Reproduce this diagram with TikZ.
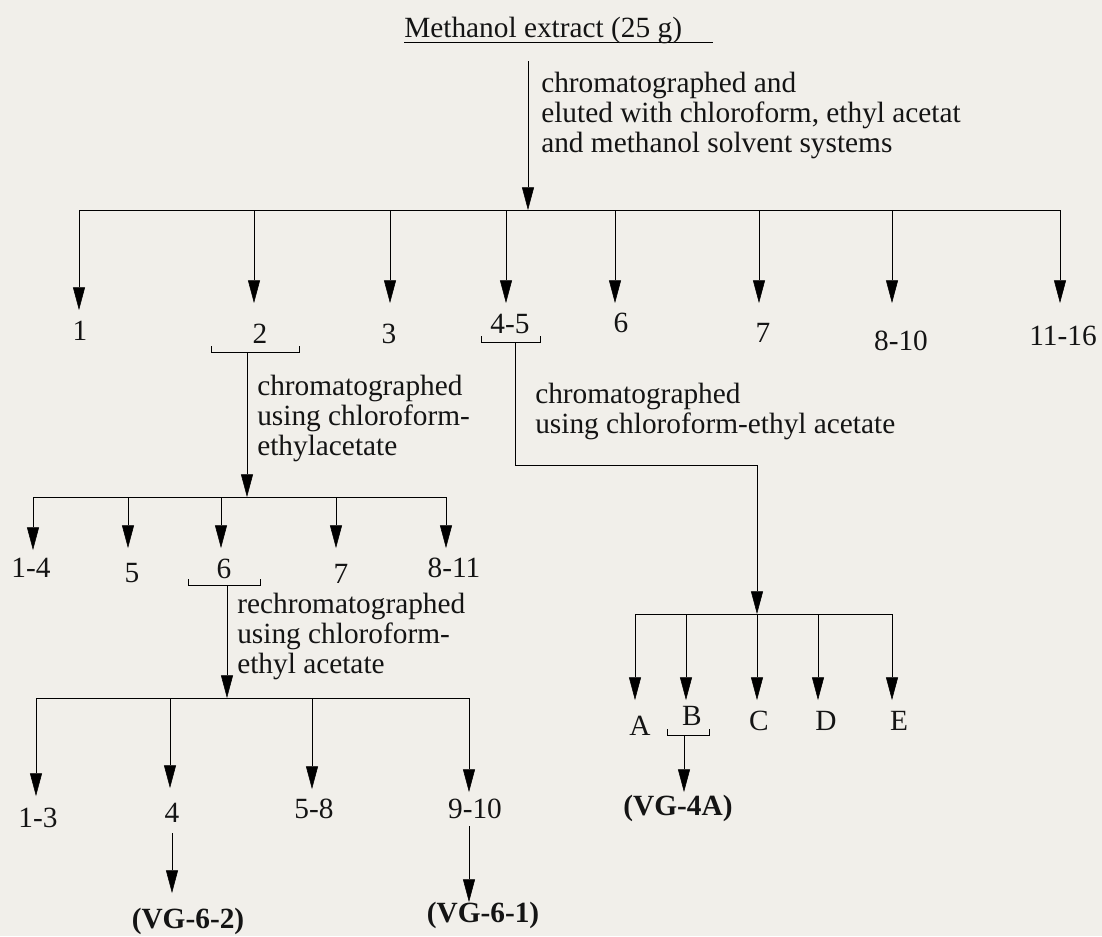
\documentclass[tikz,border=0pt]{standalone}
\usepackage{fontspec}
\setmainfont{Liberation Serif}
\usepackage{tikz}
\usetikzlibrary{arrows.meta}
\pgfdeclarelayer{paperlayer}
\pgfdeclarelayer{nodelayer}
\pgfdeclarelayer{edgelayer}
\pgfsetlayers{paperlayer,edgelayer,nodelayer,main}
\definecolor{paper}{RGB}{241,239,234}
\definecolor{ink}{RGB}{20,20,20}
\newcommand{\flowfont}{\fontsize{22}{22.5}\selectfont}
\tikzstyle{none}=[inner sep=0pt]
\tikzstyle{frac}=[inner sep=0pt, anchor=base, font=\flowfont]
\tikzstyle{note}=[inner sep=0pt, anchor=base west, align=left, font=\flowfont]
\tikzstyle{product}=[inner sep=0pt, anchor=base, font=\flowfont\bfseries]
\tikzstyle{flow}=[-{Triangle[length=17pt,width=9pt]}]
\tikzset{every picture/.append style={x=7.5pt, y=7.5pt, line width=2.2pt, color=ink}}

\begin{document}
\begin{tikzpicture}
	\begin{pgfonlayer}{paperlayer}
		\fill [paper] (0, 0) rectangle (110.2, -93.6);
		\useasboundingbox (0, 0) rectangle (110.2, -93.6);
	\end{pgfonlayer}
	\begin{pgfonlayer}{nodelayer}
		\node [style=note] (0) at (40.4, -3.7) {Methanol extract (25 g)};
		\node [style=none] (1) at (40.4, -4.2) {};
		\node [style=none] (2) at (71.3, -4.2) {};
		\node [style=none] (3) at (52.8, -6.1) {};
		\node [style=none] (4) at (52.8, -21) {};
		\node [style=note] (5) at (54.1, -15.2) {chromatographed and\\eluted with chloroform, ethyl acetat\\and methanol solvent systems};
		\node [style=none] (6) at (7.9, -21) {};
		\node [style=none] (7) at (106, -21) {};
		\node [style=none] (8) at (25.4, -21) {};
		\node [style=none] (9) at (39, -21) {};
		\node [style=none] (10) at (50.6, -21) {};
		\node [style=none] (11) at (61.5, -21) {};
		\node [style=none] (12) at (75.9, -21) {};
		\node [style=none] (13) at (89.2, -21) {};
		\node [style=none] (14) at (7.9, -31) {};
		\node [style=none] (15) at (25.4, -30.3) {};
		\node [style=none] (16) at (39, -30.3) {};
		\node [style=none] (17) at (50.6, -30.3) {};
		\node [style=none] (18) at (61.5, -30.3) {};
		\node [style=none] (19) at (75.9, -30.3) {};
		\node [style=none] (20) at (89.2, -30.3) {};
		\node [style=none] (21) at (106, -30.3) {};
		\node [style=frac] (22) at (8, -34) {1};
		\node [style=frac] (23) at (26, -34.3) {2};
		\node [style=frac] (24) at (38.9, -34.3) {3};
		\node [style=frac] (25) at (51, -33.3) {4-5};
		\node [style=frac] (26) at (62.1, -33.2) {6};
		\node [style=frac] (27) at (76.3, -34.2) {7};
		\node [style=frac] (28) at (90.1, -35) {8-10};
		\node [style=frac] (29) at (106.3, -34.5) {11-16};
		\node [style=none] (30) at (21.1, -34.6) {};
		\node [style=none] (31) at (21.1, -35.2) {};
		\node [style=none] (32) at (29.9, -35.2) {};
		\node [style=none] (33) at (29.9, -34.6) {};
		\node [style=none] (34) at (24.7, -35.2) {};
		\node [style=none] (35) at (24.7, -49.7) {};
		\node [style=note] (36) at (25.7, -45.5) {chromatographed\\using chloroform-\\ethylacetate};
		\node [style=none] (37) at (3.3, -49.7) {};
		\node [style=none] (38) at (44.6, -49.7) {};
		\node [style=none] (39) at (12.8, -49.7) {};
		\node [style=none] (40) at (22.1, -49.7) {};
		\node [style=none] (41) at (33.6, -49.7) {};
		\node [style=none] (42) at (3.3, -55) {};
		\node [style=none] (43) at (12.8, -54.8) {};
		\node [style=none] (44) at (22.1, -54.8) {};
		\node [style=none] (45) at (33.6, -54.8) {};
		\node [style=none] (46) at (44.6, -54.8) {};
		\node [style=frac] (47) at (3.1, -57.7) {1-4};
		\node [style=frac] (48) at (13.2, -58.2) {5};
		\node [style=frac] (49) at (22.4, -57.8) {6};
		\node [style=frac] (50) at (34.1, -58.3) {7};
		\node [style=frac] (51) at (45.4, -57.7) {8-11};
		\node [style=none] (52) at (18.8, -57.9) {};
		\node [style=none] (53) at (18.8, -58.5) {};
		\node [style=none] (54) at (26, -58.5) {};
		\node [style=none] (55) at (26, -57.9) {};
		\node [style=none] (56) at (22.7, -58.5) {};
		\node [style=none] (57) at (22.7, -69.8) {};
		\node [style=note] (58) at (23.7, -67.3) {rechromatographed\\using chloroform-\\ethyl acetate};
		\node [style=none] (59) at (3.6, -69.8) {};
		\node [style=none] (60) at (46.9, -69.8) {};
		\node [style=none] (61) at (17, -69.8) {};
		\node [style=none] (62) at (31.2, -69.8) {};
		\node [style=none] (63) at (3.6, -79.6) {};
		\node [style=none] (64) at (17, -78.8) {};
		\node [style=none] (65) at (31.2, -78.9) {};
		\node [style=none] (66) at (46.9, -79.2) {};
		\node [style=frac] (67) at (3.8, -82.7) {1-3};
		\node [style=frac] (68) at (17.2, -82.2) {4};
		\node [style=frac] (69) at (31.4, -81.8) {5-8};
		\node [style=frac] (70) at (47.5, -81.8) {9-10};
		\node [style=none] (71) at (17.2, -83.3) {};
		\node [style=none] (72) at (17.2, -89.3) {};
		\node [style=product] (73) at (18.8, -92.8) {(VG-6-2)};
		\node [style=none] (74) at (46.9, -82.6) {};
		\node [style=none] (75) at (46.9, -90.2) {};
		\node [style=product] (76) at (48.3, -92.2) {(VG-6-1)};
		\node [style=none] (77) at (48.1, -33.6) {};
		\node [style=none] (78) at (48.1, -34.2) {};
		\node [style=none] (79) at (54, -34.2) {};
		\node [style=none] (80) at (54, -33.6) {};
		\node [style=none] (81) at (51.5, -34.2) {};
		\node [style=none] (82) at (51.5, -46.5) {};
		\node [style=none] (83) at (75.7, -46.5) {};
		\node [style=none] (84) at (75.7, -61.4) {};
		\node [style=note] (85) at (53.5, -43.3) {chromatographed\\using chloroform-ethyl acetate};
		\node [style=none] (86) at (63.5, -61.4) {};
		\node [style=none] (87) at (89.2, -61.4) {};
		\node [style=none] (88) at (68.6, -61.4) {};
		\node [style=none] (89) at (81.8, -61.4) {};
		\node [style=none] (90) at (63.5, -70) {};
		\node [style=none] (91) at (68.6, -70) {};
		\node [style=none] (92) at (75.7, -70) {};
		\node [style=none] (93) at (81.8, -70) {};
		\node [style=none] (94) at (89.2, -70) {};
		\node [style=frac] (95) at (64, -73.5) {A};
		\node [style=frac] (96) at (69.2, -72.5) {B};
		\node [style=frac] (97) at (75.9, -73) {C};
		\node [style=frac] (98) at (82.6, -73) {D};
		\node [style=frac] (99) at (89.9, -73) {E};
		\node [style=none] (100) at (66.7, -72.9) {};
		\node [style=none] (101) at (66.7, -73.5) {};
		\node [style=none] (102) at (70.9, -73.5) {};
		\node [style=none] (103) at (70.9, -72.9) {};
		\node [style=none] (104) at (68.4, -73.5) {};
		\node [style=none] (105) at (68.4, -79.2) {};
		\node [style=product] (106) at (67.8, -81.5) {(VG-4A)};
	\end{pgfonlayer}
	\begin{pgfonlayer}{edgelayer}
		\draw (1.center) to (2.center);
		\draw [style=flow] (3.center) to (4.center);
		\draw (6.center) to (7.center);
		\draw [style=flow] (6.center) to (14.center);
		\draw [style=flow] (8.center) to (15.center);
		\draw [style=flow] (9.center) to (16.center);
		\draw [style=flow] (10.center) to (17.center);
		\draw [style=flow] (11.center) to (18.center);
		\draw [style=flow] (12.center) to (19.center);
		\draw [style=flow] (13.center) to (20.center);
		\draw [style=flow] (7.center) to (21.center);
		\draw (30.center) to (31.center) to (32.center) to (33.center);
		\draw [style=flow] (34.center) to (35.center);
		\draw (37.center) to (38.center);
		\draw [style=flow] (37.center) to (42.center);
		\draw [style=flow] (39.center) to (43.center);
		\draw [style=flow] (40.center) to (44.center);
		\draw [style=flow] (41.center) to (45.center);
		\draw [style=flow] (38.center) to (46.center);
		\draw (52.center) to (53.center) to (54.center) to (55.center);
		\draw [style=flow] (56.center) to (57.center);
		\draw (59.center) to (60.center);
		\draw [style=flow] (59.center) to (63.center);
		\draw [style=flow] (61.center) to (64.center);
		\draw [style=flow] (62.center) to (65.center);
		\draw [style=flow] (60.center) to (66.center);
		\draw [style=flow] (71.center) to (72.center);
		\draw [style=flow] (74.center) to (75.center);
		\draw (77.center) to (78.center) to (79.center) to (80.center);
		\draw [style=flow] (81.center) to (82.center) to (83.center) to (84.center);
		\draw (86.center) to (87.center);
		\draw [style=flow] (86.center) to (90.center);
		\draw [style=flow] (88.center) to (91.center);
		\draw [style=flow] (84.center) to (92.center);
		\draw [style=flow] (89.center) to (93.center);
		\draw [style=flow] (87.center) to (94.center);
		\draw (100.center) to (101.center) to (102.center) to (103.center);
		\draw [style=flow] (104.center) to (105.center);
	\end{pgfonlayer}
\end{tikzpicture}
\end{document}
